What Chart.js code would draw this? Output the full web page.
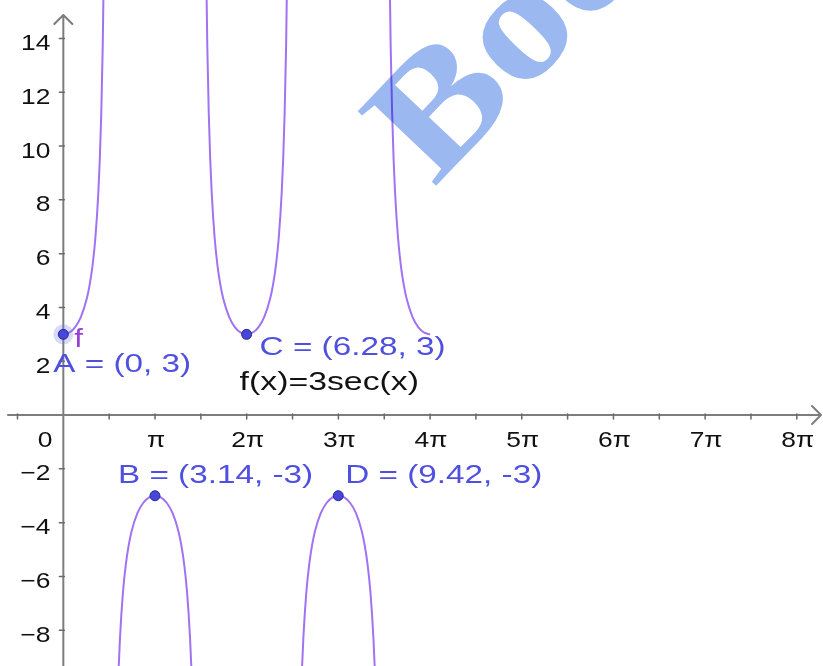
<!DOCTYPE html>
<html>
<head>
<meta charset="utf-8">
<script src="https://cdn.jsdelivr.net/npm/chart.js@4/dist/chart.umd.min.js"></script>
<style>
  html, body { margin: 0; padding: 0; background: #ffffff; overflow: hidden; }
  canvas { display: block; }
</style>
</head>
<body>
<canvas id="graph" width="823" height="666"></canvas>
<script>
// f(x) = 3 sec(x), sampled on each branch between the vertical asymptotes
const branch1X = [0, 0.2, 0.4, 0.6, 0.8, 0.9, 1.0, 1.1, 1.2, 1.25, 1.3, 1.35, 1.4];
const branch1Y = [3, 3.06, 3.26, 3.64, 4.31, 4.83, 5.55, 6.61, 8.28, 9.51, 11.22, 13.70, 17.65];

const branch2X = [1.8616, 1.8916, 1.9416, 2.0416, 2.1416, 2.2416, 2.3416, 2.5416, 2.7416, 2.9416, 3.1416,
                  3.3416, 3.5416, 3.7416, 3.9416, 4.0416, 4.1416, 4.2416, 4.3416, 4.3916, 4.4216];
const branch2Y = [-10.46, -9.51, -8.28, -6.61, -5.55, -4.83, -4.31, -3.64, -3.26, -3.06, -3,
                  -3.06, -3.26, -3.64, -4.31, -4.83, -5.55, -6.61, -8.28, -9.51, -10.46];

const branch3X = [4.8832, 4.9332, 4.9832, 5.0332, 5.0832, 5.1832, 5.2832, 5.3832, 5.4832, 5.6832, 5.8832, 6.0832, 6.2832,
                  6.4832, 6.6832, 6.8832, 7.0832, 7.1832, 7.2832, 7.3832, 7.4832, 7.5332, 7.5832, 7.6332, 7.6832];
const branch3Y = [17.65, 13.70, 11.22, 9.51, 8.28, 6.61, 5.55, 4.83, 4.31, 3.64, 3.26, 3.06, 3,
                  3.06, 3.26, 3.64, 4.31, 4.83, 5.55, 6.61, 8.28, 9.51, 11.22, 13.70, 17.65];

const branch4X = [8.1448, 8.1748, 8.2248, 8.3248, 8.4248, 8.5248, 8.6248, 8.8248, 9.0248, 9.2248, 9.4248,
                  9.6248, 9.8248, 10.0248, 10.2248, 10.3248, 10.4248, 10.5248, 10.6248, 10.6748, 10.7048];
const branch4Y = [-10.46, -9.51, -8.28, -6.61, -5.55, -4.83, -4.31, -3.64, -3.26, -3.06, -3,
                  -3.06, -3.26, -3.64, -4.31, -4.83, -5.55, -6.61, -8.28, -9.51, -10.46];

const branch5X = [11.1664, 11.2164, 11.2664, 11.3164, 11.3664, 11.4664, 11.5664, 11.6664, 11.7664, 11.9664, 12.1664, 12.3664, 12.5664];
const branch5Y = [17.65, 13.70, 11.22, 9.51, 8.28, 6.61, 5.55, 4.83, 4.31, 3.64, 3.26, 3.06, 3];

// Named points on the curve
const pointNames = ['A', 'B', 'C', 'D'];
const pointX = [0, 3.14, 6.28, 9.42];
const pointY = [3, -3, 3, -3];

// Axis ticks
const xTickMultiples = [1, 2, 3, 4, 5, 6, 7, 8];          // multiples of π
const xTickLabels = ['π', '2π', '3π', '4π', '5π', '6π', '7π', '8π'];
const xMinorMultiples = [-0.5, 0.5, 1.5, 2.5, 3.5, 4.5, 5.5, 6.5, 7.5];
const yTickValues = [14, 12, 10, 8, 6, 4, 2, -2, -4, -6, -8];
const yTickLabels = ['14', '12', '10', '8', '6', '4', '2', '−2', '−4', '−6', '−8'];

const curveName = 'f';
const functionLabel = 'f(x)=3sec(x)';
const watermarkText = 'Boo';

const CURVE_COLOR = '#a173f2';
const POINT_COLOR = '#4646dc';
const LABEL_COLOR = '#5050e0';
const AXIS_COLOR = '#7d7d7d';
const SANS = '"Liberation Sans", Arial, sans-serif';

function toXY(xs, ys) {
  return xs.map((x, i) => ({ x: x, y: ys[i] }));
}

function drawText(ctx, text, x, y, size, color, sx, align, baseline) {
  ctx.save();
  ctx.font = size + 'px ' + SANS;
  ctx.fillStyle = color;
  ctx.textAlign = align || 'left';
  ctx.textBaseline = baseline || 'alphabetic';
  ctx.translate(x, y);
  ctx.scale(sx, 1);
  ctx.fillText(text, 0, 0);
  ctx.restore();
}

function fmt(v) {
  return String(v);
}

// Axes with arrows, tick marks and tick labels
const axesPlugin = {
  id: 'axes',
  beforeDatasetsDraw(chart) {
    const ctx = chart.ctx;
    const xs = chart.scales.x, ys = chart.scales.y;
    const ox = xs.getPixelForValue(0);
    const oy = ys.getPixelForValue(0);
    const area = chart.chartArea;

    ctx.save();
    ctx.strokeStyle = AXIS_COLOR;
    ctx.lineWidth = 2;
    ctx.lineCap = 'round';
    ctx.lineJoin = 'round';

    // x axis
    ctx.beginPath();
    ctx.moveTo(area.left + 8, oy);
    ctx.lineTo(area.right - 2, oy);
    ctx.moveTo(area.right - 11, oy - 9);
    ctx.lineTo(area.right - 2, oy);
    ctx.lineTo(area.right - 11, oy + 9);
    ctx.stroke();

    // y axis
    ctx.beginPath();
    ctx.moveTo(ox, area.bottom);
    ctx.lineTo(ox, area.top + 15);
    ctx.moveTo(ox - 9, area.top + 24);
    ctx.lineTo(ox, area.top + 15);
    ctx.lineTo(ox + 9, area.top + 24);
    ctx.stroke();

    // tick marks
    ctx.lineWidth = 1.5;
    ctx.strokeStyle = '#6a6a6a';
    ctx.beginPath();
    xTickMultiples.concat(xMinorMultiples).forEach(k => {
      const px = xs.getPixelForValue(k * Math.PI);
      ctx.moveTo(px, oy - 1);
      ctx.lineTo(px, oy + 4);
    });
    yTickValues.forEach(v => {
      const py = ys.getPixelForValue(v);
      ctx.moveTo(ox - 4, py);
      ctx.lineTo(ox + 1, py);
    });
    ctx.stroke();
    ctx.restore();

    // tick labels
    xTickMultiples.forEach((k, i) => {
      const px = xs.getPixelForValue(k * Math.PI);
      drawText(ctx, xTickLabels[i], px + 1, oy + 32, 22, '#111111', 1.2, 'center');
    });
    drawText(ctx, '0', ox - 11, oy + 32, 22, '#111111', 1.2, 'right');
    yTickValues.forEach((v, i) => {
      const py = ys.getPixelForValue(v);
      drawText(ctx, yTickLabels[i], ox - 13, py + 11.5, 22, '#111111', 1.2, 'right');
    });
  },
  afterDatasetsDraw(chart) {
    const ctx = chart.ctx;
    const xs = chart.scales.x, ys = chart.scales.y;

    // watermark lettering laid over the plot
    ctx.save();
    ctx.globalCompositeOperation = 'multiply';
    ctx.translate(434, 188);
    ctx.rotate(-46.5 * Math.PI / 180);
    ctx.scale(1.14, 1);
    ctx.font = 'bold 165px "Liberation Serif", "Times New Roman", serif';
    ctx.fillStyle = 'rgb(156,184,241)';
    ctx.textBaseline = 'alphabetic';
    ctx.fillText(watermarkText, 0, 0);
    ctx.restore();

    // point labels
    const offsets = { A: [-10, 38], B: [-37, -13], C: [13, 21], D: [7, -13] };
    pointNames.forEach((name, i) => {
      const px = xs.getPixelForValue(pointX[i]);
      const py = ys.getPixelForValue(pointY[i]);
      const o = offsets[name];
      drawText(ctx, name + ' = (' + fmt(pointX[i]) + ', ' + fmt(pointY[i]) + ')',
               px + o[0], py + o[1], 26, LABEL_COLOR, 1.28, 'left');
    });

    // curve name and its definition
    const ax = xs.getPixelForValue(pointX[0]);
    const ay = ys.getPixelForValue(pointY[0]);
    drawText(ctx, curveName, ax + 11, ay + 13, 26, '#9a40d8', 1.2, 'left');
    const cx = xs.getPixelForValue(pointX[2]);
    const cy = ys.getPixelForValue(pointY[2]);
    drawText(ctx, functionLabel, cx - 7, cy + 56, 26, '#111111', 1.3, 'left');
  }
};

const curveStyle = {
  showLine: true,
  borderColor: CURVE_COLOR,
  borderWidth: 2,
  pointRadius: 0,
  fill: false,
  cubicInterpolationMode: 'monotone',
  order: 2
};

new Chart(document.getElementById('graph'), {
  type: 'scatter',
  data: {
    datasets: [
      {
        label: 'points',
        data: toXY(pointX, pointY),
        pointRadius: 5,
        pointBackgroundColor: POINT_COLOR,
        pointBorderColor: '#28288e',
        pointBorderWidth: 1,
        showLine: false,
        order: 0
      },
      {
        label: 'selected',
        data: toXY(pointX.slice(0, 1), pointY.slice(0, 1)),
        pointRadius: 10,
        pointBackgroundColor: 'rgba(120,120,235,0.28)',
        pointBorderWidth: 0,
        showLine: false,
        order: 1
      },
      Object.assign({ label: 'f1', data: toXY(branch1X, branch1Y) }, curveStyle),
      Object.assign({ label: 'f2', data: toXY(branch2X, branch2Y) }, curveStyle),
      Object.assign({ label: 'f3', data: toXY(branch3X, branch3Y) }, curveStyle),
      Object.assign({ label: 'f4', data: toXY(branch4X, branch4Y) }, curveStyle),
      Object.assign({ label: 'f5', data: toXY(branch5X, branch5Y) }, curveStyle)
    ]
  },
  options: {
    responsive: false,
    animation: false,
    devicePixelRatio: 1,
    events: [],
    layout: { padding: 0, autoPadding: false },
    plugins: { legend: { display: false }, tooltip: { enabled: false } },
    scales: {
      x: { type: 'linear', min: -2.17, max: 26.03, display: false },
      y: { type: 'linear', min: -9.33, max: 15.43, display: false }
    }
  },
  plugins: [axesPlugin]
});
</script>
</body>
</html>
